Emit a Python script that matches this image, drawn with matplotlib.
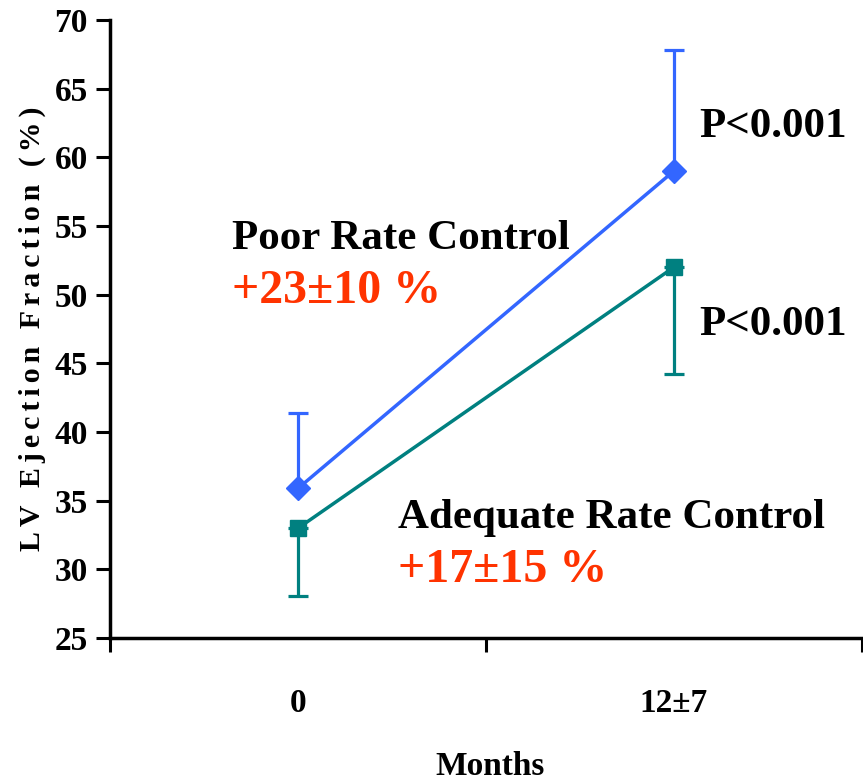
import matplotlib.pyplot as plt
from matplotlib.ticker import FixedLocator, NullFormatter, FixedFormatter

# Data
categories = ["0", "12\u00b17"]
poor_ef = [35.9, 59.0]
poor_err_up = [5.5, 8.8]
adequate_ef = [33.0, 52.0]
adequate_err_down = [4.9, 7.8]

serif = "Liberation Serif"
blue = "#3366ff"
teal = "#008080"
red = "#ff3300"

fig = plt.figure(figsize=(8.63, 7.84), dpi=100)
ax = fig.add_axes([0.1275, 0.186, 0.871, 0.7885])

x = [i + 0.5 for i in range(len(categories))]

ax.errorbar(x, poor_ef, yerr=[[0, 0], poor_err_up], color=blue, lw=2.5,
            marker="D", markersize=12, capsize=7, capthick=2.3, elinewidth=2.3)
ax.errorbar(x, adequate_ef, yerr=[adequate_err_down, [0, 0]], color=teal, lw=2.5,
            marker="s", markersize=12, capsize=7, capthick=2.3, elinewidth=2.3)

ax.set_xlim(0, 2)
ax.set_ylim(25, 70)
ax.set_yticks(range(25, 71, 5))

ax.xaxis.set_major_locator(FixedLocator([0, 1, 2]))
ax.xaxis.set_major_formatter(NullFormatter())
ax.xaxis.set_minor_locator(FixedLocator(x))
ax.xaxis.set_minor_formatter(FixedFormatter(categories))
ax.tick_params(axis="x", which="minor", length=0, pad=36)
ax.tick_params(axis="both", which="major", direction="out", length=10, width=2.2)
ax.tick_params(axis="y", pad=6)

for lab in ax.get_yticklabels() + ax.get_xticklabels(minor=True):
    lab.set_fontfamily(serif)
    lab.set_fontweight("bold")
    lab.set_fontsize(24)

for s in ["top", "right"]:
    ax.spines[s].set_visible(False)
for s in ["left", "bottom"]:
    ax.spines[s].set_linewidth(2.5)

# letter-spaced y label
ylab = "\u2006".join("LV Ejection Fraction (%)")
ax.set_ylabel(ylab, fontfamily=[serif, "DejaVu Serif"],
              fontweight="bold", fontsize=21.5, labelpad=6)
ax.set_xlabel("Months", fontfamily=serif, fontweight="bold", fontsize=24, va="bottom")
ax.xaxis.set_label_coords(0.505, -0.232)

txt = dict(fontfamily=serif, fontweight="bold", va="baseline", ha="left")
ax.text(0.324, 53.3, "Poor Rate Control", color="black", fontsize=31, **txt)
ax.text(0.324, 49.4, "+23\u00b110 %", color=red, fontsize=34.5, **txt)
ax.text(1.567, 61.5, "P<0.001", color="black", fontsize=31, **txt)
ax.text(1.567, 47.1, "P<0.001", color="black", fontsize=31, **txt)
ax.text(0.765, 33.0, "Adequate Rate Control", color="black", fontsize=31, **txt)
ax.text(0.765, 29.1, "+17\u00b115 %", color=red, fontsize=34.5, **txt)

fig.savefig("out.png", dpi=100)
